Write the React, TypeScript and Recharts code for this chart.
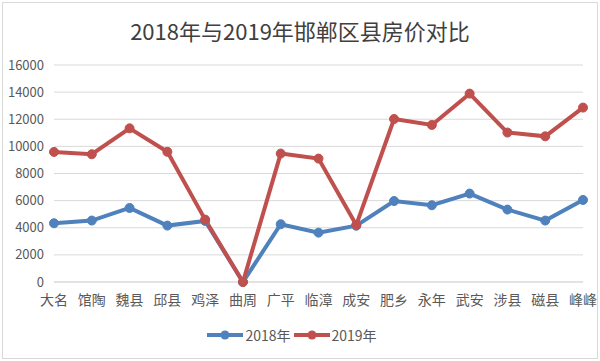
import { LineChart, Line, XAxis, YAxis, CartesianGrid, Legend } from 'recharts';

const counties = ['大名', '馆陶', '魏县', '邱县', '鸡泽', '曲周', '广平', '临漳', '成安', '肥乡', '永年', '武安', '涉县', '磁县', '峰峰'];
const price2018 = [4330, 4530, 5460, 4160, 4500, 0, 4260, 3640, 4150, 5970, 5660, 6520, 5340, 4530, 6050];
const price2019 = [9590, 9420, 11330, 9600, 4600, 0, 9470, 9100, 4200, 12020, 11580, 13890, 11020, 10740, 12860];
const yTicks = [0, 2000, 4000, 6000, 8000, 10000, 12000, 14000, 16000];

const series = [
  { key: 'y2018', name: '2018年', color: '#4f81bd', values: price2018 },
  { key: 'y2019', name: '2019年', color: '#c0504d', values: price2019 },
];

const data = counties.map((name, i) => ({
  name,
  y2018: price2018[i],
  y2019: price2019[i],
}));

const font = '"Noto Sans CJK SC", "Noto Sans", sans-serif';

function LegendContent() {
  return (
    <div style={{ display: 'flex', justifyContent: 'center', alignItems: 'center', fontFamily: font, fontSize: 14, color: '#595959' }}>
      {series.map(s => (
        <div key={s.key} style={{ display: 'flex', alignItems: 'center', marginRight: 3 }}>
          <svg width={36} height={12}>
            <line x1={0} y1={6} x2={36} y2={6} stroke={s.color} strokeWidth={4} />
            <circle cx={18} cy={6} r={4.5} fill={s.color} />
          </svg>
          <span style={{ marginLeft: 2 }}>{s.name}</span>
        </div>
      ))}
    </div>
  );
}

export default function App() {
  return (
    <div style={{ position: 'absolute', left: 0, top: 0, width: 600, height: 361, background: '#fff' }}>
      <div style={{ position: 'absolute', left: 2, top: 2, width: 594, height: 355, border: '1px solid #d9d9d9' }} />
      <div style={{ position: 'absolute', left: 0, top: 16, width: 600, textAlign: 'center', fontFamily: font, fontSize: 22, color: '#404040', lineHeight: '29px' }}>
        2018年与2019年邯郸区县房价对比
      </div>
      <LineChart
        width={600}
        height={361}
        data={data}
        margin={{ top: 65, right: 17, left: 4, bottom: 16 }}
      >
        <CartesianGrid vertical={false} stroke="#d9d9d9" strokeWidth={1} />
        <XAxis
          dataKey="name"
          interval={0}
          height={43}
          tickLine={false}
          tickSize={0}
          tickMargin={13}
          axisLine={{ stroke: '#d9d9d9' }}
          tick={{ fontSize: 14, fill: '#595959', fontFamily: font }}
        />
        <YAxis
          width={50}
          domain={[0, 16000]}
          ticks={yTicks}
          interval={0}
          tickLine={false}
          tickSize={0}
          tickMargin={10}
          axisLine={false}
          tick={{ fontSize: 13, fill: '#595959', fontFamily: font }}
        />
        <Legend verticalAlign="bottom" height={20} content={<LegendContent />} />
        {series.map(s => (
          <Line
            key={s.key}
            type="linear"
            dataKey={s.key}
            name={s.name}
            stroke={s.color}
            strokeWidth={4}
            dot={{ r: 4.5, fill: s.color, stroke: s.color, strokeWidth: 1 }}
            isAnimationActive={false}
          />
        ))}
      </LineChart>
    </div>
  );
}
